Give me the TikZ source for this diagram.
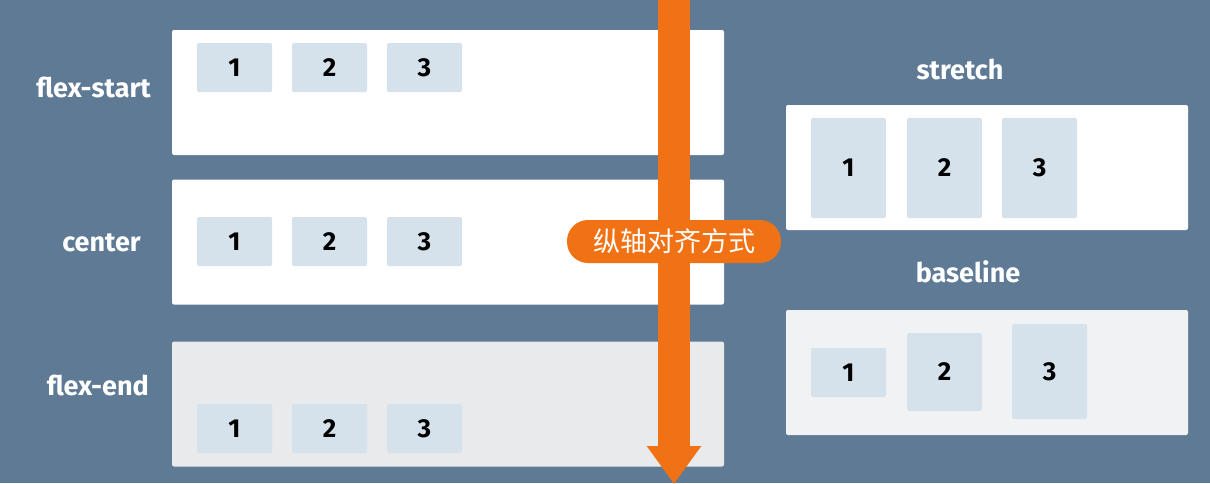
\documentclass[tikz,border=0pt]{standalone}
\usepackage{fontspec}
\setmainfont{Fira Sans}
\newfontfamily\cjk{Noto Sans CJK SC}
\usetikzlibrary{arrows.meta}
\definecolor{slate}{HTML}{5E7A95}
\definecolor{itemblue}{HTML}{D6E2EB}
\definecolor{flexorange}{HTML}{F07214}
\definecolor{paleback}{HTML}{E8EAEC}

\begin{document}
\begin{tikzpicture}[x=1pt, y=-1pt,
  container/.style={fill=white, rounded corners=2pt, inner sep=0pt,
    minimum width=552pt, minimum height=125pt},
  sidebox/.style={container, minimum width=402pt},
  item/.style={fill=itemblue, rounded corners=2pt, inner sep=0pt,
    minimum width=75pt, minimum height=49pt,
    font=\bfseries\fontsize{26}{26}\selectfont},
  caption/.style={text=white, inner sep=0pt,
    font=\bfseries\fontsize{27}{27}\selectfont}]
\useasboundingbox (0,0) rectangle (1210,483);
\fill[slate] (0,0) rectangle (1210,483);

% left column
\node[container] (start) at (448, 92.5) {};
\node[container] (center) at (448, 242) {};
\node[container, fill=paleback] (end) at (448, 404) {};
\node[caption, anchor=east] (lstart) at (151, 87) {flex-start};
\node[caption, anchor=east] (lcenter) at (141, 243) {center};
\node[caption, anchor=east] (lend) at (149, 385) {flex-end};

\node[item] (s1) at (234.5, 67.5) {1};
\node[item] (s2) at (329.5, 67.5) {2};
\node[item] (s3) at (424.5, 67.5) {3};
\node[item] (c1) at (234.5, 241.5) {1};
\node[item] (c2) at (329.5, 241.5) {2};
\node[item] (c3) at (424.5, 241.5) {3};
\node[item] (e1) at (234.5, 428.5) {1};
\node[item] (e2) at (329.5, 428.5) {2};
\node[item] (e3) at (424.5, 428.5) {3};

% right column
\node[caption] (lstretch) at (960, 69) {stretch};
\node[sidebox] (stretch) at (987, 167.5) {};
\node[item, minimum height=100pt] (t1) at (848.5, 168) {1};
\node[item, minimum height=100pt] (t2) at (944.5, 168) {2};
\node[item, minimum height=100pt] (t3) at (1039.5, 168) {3};

\node[caption] (lbaseline) at (968, 272) {baseline};
\node[sidebox, fill=paleback!60] (base) at (987, 372.5) {};
\node[item, minimum height=49pt] (b1) at (848.5, 372.5) {1};
\node[item, minimum height=78pt] (b2) at (944.5, 372) {2};
\node[item, minimum height=95pt] (b3) at (1049.5, 371.5) {3};

% cross axis arrow
\coordinate (atop) at (674, -2);
\coordinate (atip) at (674, 484);
\draw[flexorange, line width=32pt, -{Triangle[width=52pt, length=38pt]}] (atop) -- (atip);
\node[fill=flexorange, text=white, rounded corners=21pt, inner sep=0pt,
  minimum width=214pt, minimum height=43pt,
  font=\cjk\fontsize{27}{27}\selectfont] (axis) at (674, 241.5) {纵轴对齐方式};
\end{tikzpicture}
\end{document}
